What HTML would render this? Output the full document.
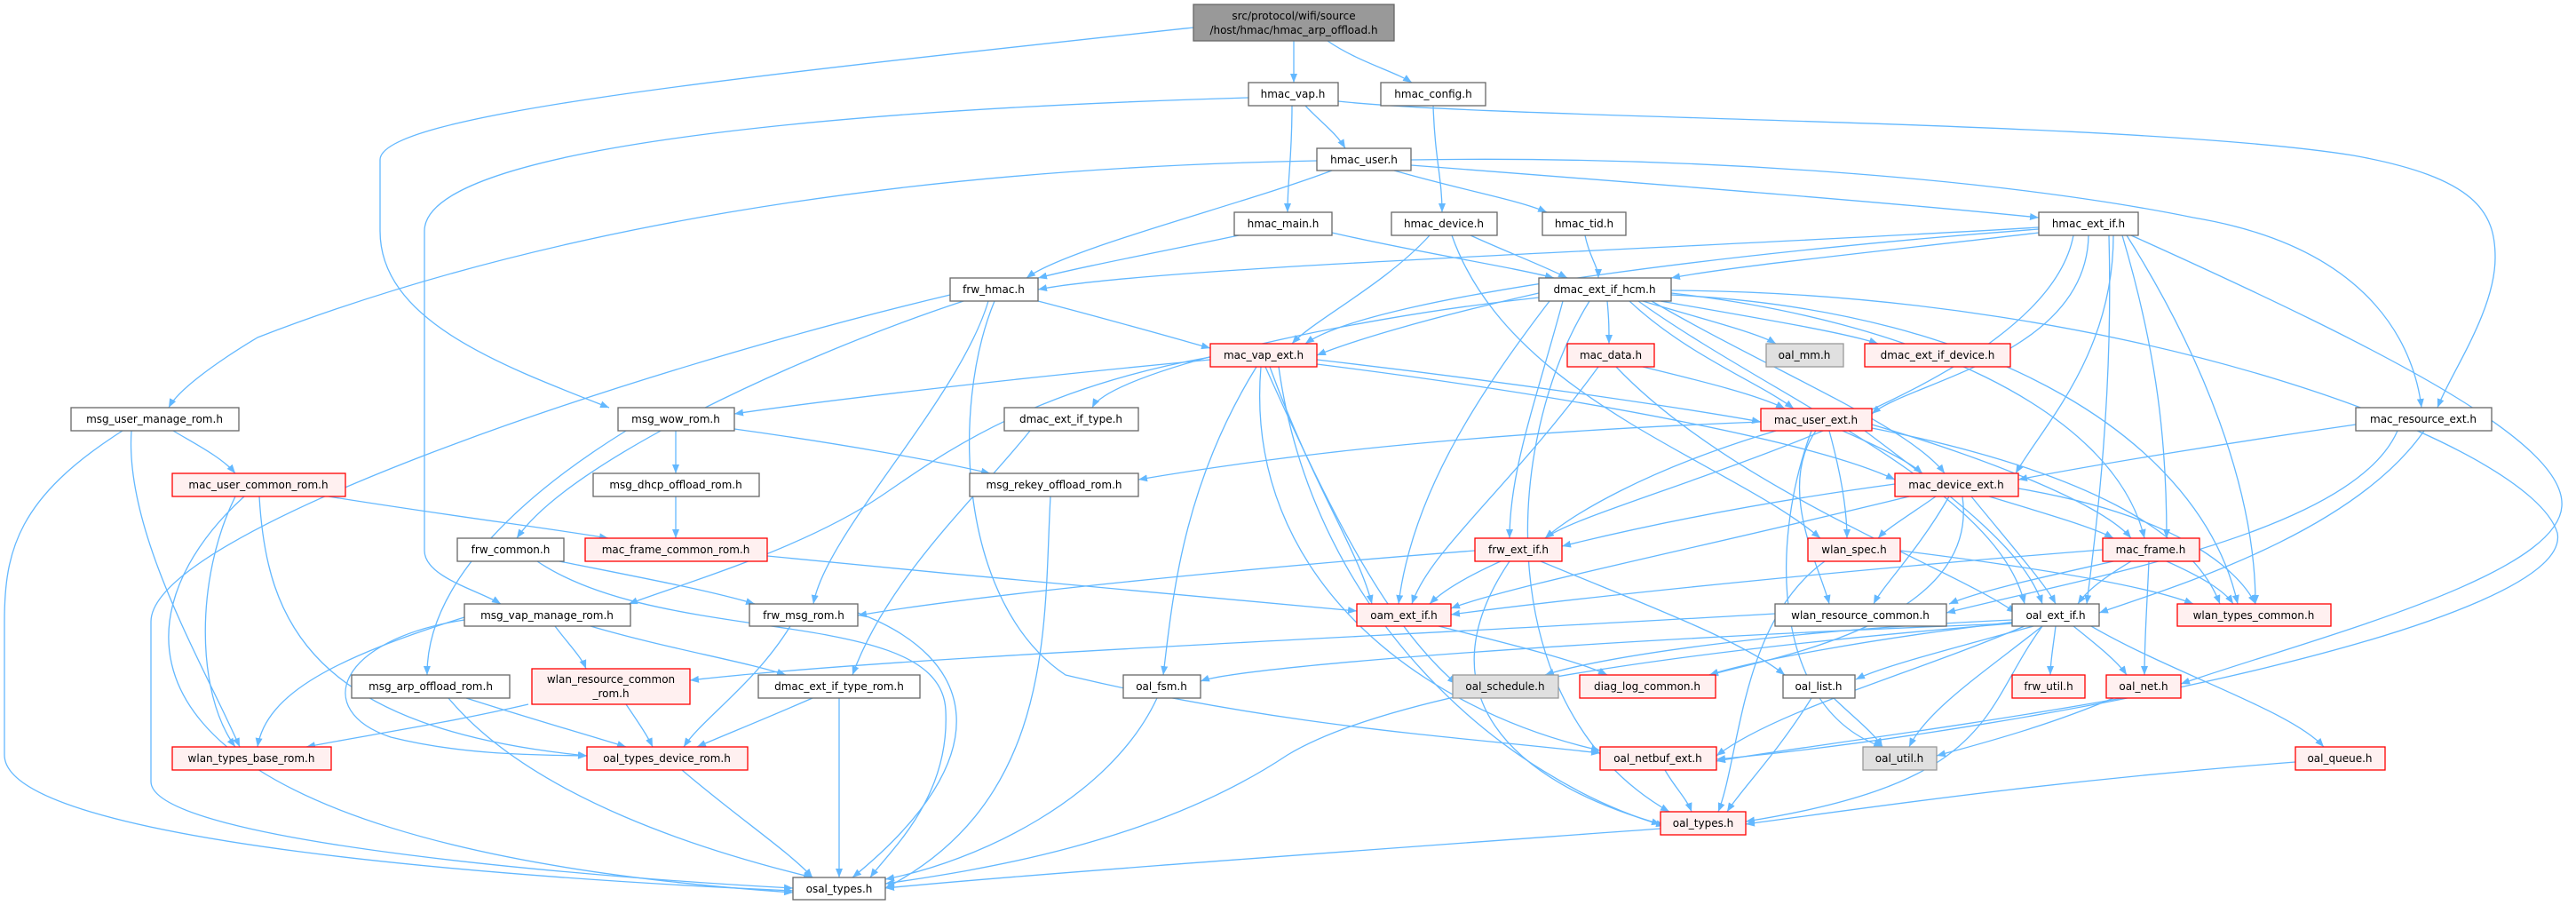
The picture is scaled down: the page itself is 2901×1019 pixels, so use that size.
<!DOCTYPE html>
<html><head><meta charset="utf-8"><style>
html,body{margin:0;padding:0;background:#fff;}
svg{display:block;}
text{font-family:"DejaVu Sans","Liberation Sans",sans-serif;font-size:12px;fill:#000;text-anchor:middle;}
.e{fill:none;stroke:#63b8ff;stroke-width:1.3;marker-end:url(#a);}
.n{fill:#fff;stroke:#666;stroke-width:1.3;}
.r{fill:#fff0f0;stroke:#f00;stroke-width:1.3;}
.g{fill:#e0e0e0;stroke:#999;stroke-width:1.3;}
</style></head><body>
<svg width="2901" height="1019" xmlns="http://www.w3.org/2000/svg">
<defs><marker id="a" markerUnits="userSpaceOnUse" markerWidth="11" markerHeight="8" refX="10" refY="4" orient="auto"><path d="M0,0 L10,4 L0,8 z" fill="#63b8ff"/></marker></defs>
<g>
<path class="e" d="M1457,46 L1457,93"/>
<path class="e" d="M1495,46 C1530,70 1570,80 1590,93"/>
<path class="e" d="M1344,31 C800,90 428,130 428,180 L428,260 C428,360 560,410 686,459"/>
<path class="e" d="M1470,119 C1490,140 1505,150 1515,167"/>
<path class="e" d="M1455,119 C1455,180 1450,200 1450,239"/>
<path class="e" d="M1507,114 C1700,135 2400,135 2650,175 C2790,200 2810,240 2810,290 C2810,350 2760,420 2745,459"/>
<path class="e" d="M1406,110 C900,125 478,170 478,260 L478,620 C478,650 540,665 564,680"/>
<path class="e" d="M1614,119 C1616,180 1624,200 1624,239"/>
<path class="e" d="M1500,192 C1400,230 1200,280 1156,313"/>
<path class="e" d="M1483,181 C1000,190 600,260 290,380 C240,410 200,440 190,459"/>
<path class="e" d="M1570,192 C1650,215 1710,225 1742,239"/>
<path class="e" d="M1589,186 C1900,210 2150,230 2296,245"/>
<path class="e" d="M1589,180 C1900,175 2250,200 2470,245 C2680,280 2720,400 2727,459"/>
<path class="e" d="M1395,265 C1300,285 1220,300 1169,313"/>
<path class="e" d="M1500,262 C1600,285 1700,300 1750,313"/>
<path class="e" d="M1656,265 C1700,285 1740,300 1765,313"/>
<path class="e" d="M1610,265 C1560,320 1480,360 1455,387"/>
<path class="e" d="M1635,265 C1700,450 1950,520 2050,606"/>
<path class="e" d="M1785,265 C1790,290 1800,300 1800,313"/>
<path class="e" d="M2296,256 C1900,280 1300,300 1169,326"/>
<path class="e" d="M2296,262 C2100,285 1950,300 1882,313"/>
<path class="e" d="M2296,258 C2000,280 1550,330 1470,387"/>
<path class="e" d="M2352,265 C2350,400 2150,430 2108,466"/>
<path class="e" d="M2380,265 C2380,400 2300,480 2270,533"/>
<path class="e" d="M2335,265 C2300,450 1800,560 1740,606"/>
<path class="e" d="M2390,265 C2430,400 2440,500 2440,606"/>
<path class="e" d="M2375,265 C2380,450 2360,600 2350,680"/>
<path class="e" d="M2395,265 C2480,400 2540,550 2540,680"/>
<path class="e" d="M2400,265 C2700,400 2890,500 2885,570 C2880,650 2600,720 2456,770"/>
<path class="e" d="M1169,339 C1250,360 1320,380 1363,392"/>
<path class="e" d="M1085,339 C900,400 640,520 582,606"/>
<path class="e" d="M1113,339 C1080,450 930,600 916,680"/>
<path class="e" d="M1120,339 C1070,460 1080,680 1200,760 C1450,820 1650,830 1802,848"/>
<path class="e" d="M1070,332 C700,420 170,600 170,700 L170,880 C170,950 700,990 893,1000"/>
<path class="e" d="M1733,330 C1600,360 1520,385 1483,400"/>
<path class="e" d="M1810,339 C1812,360 1812,370 1812,387"/>
<path class="e" d="M1850,339 C1920,360 1980,375 2000,387"/>
<path class="e" d="M1870,339 C1990,360 2080,375 2115,387"/>
<path class="e" d="M1835,339 C1900,400 1980,430 2020,460"/>
<path class="e" d="M1733,335 C1500,360 1250,420 1230,459"/>
<path class="e" d="M1760,339 C1730,450 1700,530 1700,606"/>
<path class="e" d="M1745,339 C1660,450 1590,560 1575,680"/>
<path class="e" d="M1790,339 C1690,500 1680,800 1880,914"/>
<path class="e" d="M1860,339 C2000,420 2150,480 2190,533"/>
<path class="e" d="M1882,330 C2150,360 2380,460 2415,606"/>
<path class="e" d="M1882,332 C2250,350 2480,500 2520,680"/>
<path class="e" d="M1845,339 C2000,450 2250,550 2280,680"/>
<path class="e" d="M1882,327 C2400,330 2850,500 2880,600 C2900,700 2300,820 1933,855"/>
<path class="e" d="M1363,405 C1100,430 900,455 827,466"/>
<path class="e" d="M1483,405 C1700,430 1900,460 1983,475"/>
<path class="e" d="M1363,402 C1150,440 1050,520 990,560 C900,620 760,660 708,680"/>
<path class="e" d="M1415,413 C1330,550 1320,680 1310,760"/>
<path class="e" d="M1430,413 C1480,550 1530,620 1545,680"/>
<path class="e" d="M1425,413 C1500,580 1560,700 1640,770"/>
<path class="e" d="M1420,413 C1400,650 1600,800 1802,845"/>
<path class="e" d="M1440,413 C1480,700 1700,880 1875,930"/>
<path class="e" d="M1483,410 C1800,450 2050,500 2134,540"/>
<path class="e" d="M761,485 L761,533"/>
<path class="e" d="M827,483 C950,500 1060,520 1115,533"/>
<path class="e" d="M705,485 C600,550 480,650 481,760"/>
<path class="e" d="M195,485 C220,500 250,515 265,533"/>
<path class="e" d="M148,485 C140,600 230,750 270,841"/>
<path class="e" d="M138,485 C20,560 5,620 5,700 L5,850 C5,950 600,990 893,1003"/>
<path class="e" d="M370,559 C500,580 620,595 685,606"/>
<path class="e" d="M265,559 C220,650 220,780 265,841"/>
<path class="e" d="M275,559 C120,700 100,950 893,1005"/>
<path class="e" d="M292,559 C300,700 350,820 661,851"/>
<path class="e" d="M761,559 L761,606"/>
<path class="e" d="M1183,559 C1175,700 1190,900 997,1000"/>
<path class="e" d="M864,626 C1100,650 1400,675 1528,688"/>
<path class="e" d="M630,632 C720,650 800,665 850,680"/>
<path class="e" d="M605,632 C750,730 1060,680 1065,800 C1070,900 1000,960 980,988"/>
<path class="e" d="M625,705 C640,725 655,740 660,753"/>
<path class="e" d="M665,705 C750,730 840,745 885,760"/>
<path class="e" d="M523,695 C380,740 300,780 290,841"/>
<path class="e" d="M523,698 C380,720 350,800 440,830 C520,850 600,850 661,851"/>
<path class="e" d="M890,705 C850,770 790,810 770,841"/>
<path class="e" d="M966,690 C1100,740 1130,850 960,988"/>
<path class="e" d="M525,786 C600,810 670,830 705,841"/>
<path class="e" d="M505,786 C600,900 800,960 915,988"/>
<path class="e" d="M595,793 C500,815 400,830 345,841"/>
<path class="e" d="M705,793 C720,815 730,830 735,841"/>
<path class="e" d="M915,786 C860,810 810,830 785,841"/>
<path class="e" d="M945,786 L945,988"/>
<path class="e" d="M1160,485 C1100,560 1000,650 960,760"/>
<path class="e" d="M1303,786 C1250,900 1100,970 997,990"/>
<path class="e" d="M768,867 C830,920 890,960 915,988"/>
<path class="e" d="M1870,933 C1500,960 1150,985 997,1000"/>
<path class="e" d="M1850,413 C1920,430 1980,445 2010,460"/>
<path class="e" d="M1800,413 C1700,550 1610,620 1590,680"/>
<path class="e" d="M1820,413 C1950,550 2200,640 2270,690"/>
<path class="e" d="M1983,475 C1600,490 1400,520 1282,540"/>
<path class="e" d="M2075,485 C2120,505 2150,520 2165,533"/>
<path class="e" d="M2000,485 C1850,530 1770,580 1740,606"/>
<path class="e" d="M2060,485 C2075,540 2080,580 2080,606"/>
<path class="e" d="M2045,485 C2000,550 2050,640 2060,680"/>
<path class="e" d="M2100,485 C2200,560 2280,620 2300,680"/>
<path class="e" d="M2108,478 C2250,520 2370,570 2400,606"/>
<path class="e" d="M2108,482 C2350,530 2470,600 2500,680"/>
<path class="e" d="M2040,485 C1990,620 2000,800 2120,841"/>
<path class="e" d="M2653,478 C2500,500 2350,525 2273,540"/>
<path class="e" d="M2730,485 C2650,600 2450,660 2364,690"/>
<path class="e" d="M2700,485 C2650,600 2350,650 2192,690"/>
<path class="e" d="M2134,545 C1950,570 1820,600 1759,615"/>
<path class="e" d="M2180,559 C2150,580 2125,595 2115,606"/>
<path class="e" d="M2240,559 C2310,580 2360,595 2380,606"/>
<path class="e" d="M2150,559 C1900,620 1700,660 1634,685"/>
<path class="e" d="M2195,559 C2160,620 2120,660 2110,680"/>
<path class="e" d="M2220,559 C2270,620 2305,660 2315,680"/>
<path class="e" d="M2273,550 C2450,580 2520,640 2540,680"/>
<path class="e" d="M2210,559 C2230,700 2000,740 1925,760"/>
<path class="e" d="M1690,632 C1650,650 1625,665 1610,680"/>
<path class="e" d="M1661,620 C1400,640 1100,670 966,693"/>
<path class="e" d="M1735,632 C1850,680 1960,720 2010,760"/>
<path class="e" d="M1700,632 C1600,780 1700,880 1870,928"/>
<path class="e" d="M2140,620 C2300,640 2420,660 2470,680"/>
<path class="e" d="M2055,632 C1960,700 1960,850 1935,914"/>
<path class="e" d="M2368,619 C2100,640 1800,670 1634,692"/>
<path class="e" d="M2380,632 C2300,650 2230,665 2195,680"/>
<path class="e" d="M2400,632 C2370,650 2350,665 2340,680"/>
<path class="e" d="M2420,632 C2418,680 2415,720 2415,760"/>
<path class="e" d="M2440,632 C2480,650 2505,665 2515,680"/>
<path class="e" d="M1620,705 C1700,725 1780,745 1810,760"/>
<path class="e" d="M1999,691 C1500,720 1000,740 777,766"/>
<path class="e" d="M2266,698 C2000,710 1800,740 1740,760"/>
<path class="e" d="M2270,700 C2100,720 1970,745 1925,760"/>
<path class="e" d="M2290,705 C2200,730 2120,750 2090,765"/>
<path class="e" d="M2315,705 C2312,730 2309,745 2309,760"/>
<path class="e" d="M2335,705 C2360,725 2385,745 2395,760"/>
<path class="e" d="M2300,705 C2230,760 2170,800 2150,841"/>
<path class="e" d="M2355,705 C2450,760 2580,800 2617,841"/>
<path class="e" d="M2300,705 C2230,800 2250,880 1966,925"/>
<path class="e" d="M2266,702 C1800,720 1400,750 1352,767"/>
<path class="e" d="M2266,702 C1800,740 1550,790 1450,850 C1300,950 1100,980 997,995"/>
<path class="e" d="M2280,705 C2150,760 2000,800 1933,851"/>
<path class="e" d="M2065,786 C2090,810 2110,825 2120,841"/>
<path class="e" d="M2040,786 C2000,850 1960,890 1945,914"/>
<path class="e" d="M2390,786 C2200,820 2000,845 1933,857"/>
<path class="e" d="M2380,786 C2300,820 2220,840 2181,851"/>
<path class="e" d="M1875,867 C1885,885 1900,900 1905,914"/>
<path class="e" d="M2585,858 C2300,880 2100,910 1966,928"/>
</g>
<g>
<rect x="1344" y="5" width="226" height="41" fill="#999" stroke="#666" stroke-width="1.3"/>
<text x="1457" y="22">src/protocol/wifi/source</text><text x="1457" y="38">/host/hmac/hmac_arp_offload.h</text>

<rect class="n" x="1406" y="93" width="101" height="26"/><text x="1456" y="110">hmac_vap.h</text>
<rect class="n" x="1555" y="93" width="118" height="26"/><text x="1614" y="110">hmac_config.h</text>
<rect class="n" x="1483" y="167" width="106" height="25"/><text x="1536" y="184">hmac_user.h</text>
<rect class="n" x="1390" y="239" width="110" height="26"/><text x="1445" y="256">hmac_main.h</text>
<rect class="n" x="1567" y="239" width="119" height="26"/><text x="1626" y="256">hmac_device.h</text>
<rect class="n" x="1737" y="239" width="94" height="26"/><text x="1784" y="256">hmac_tid.h</text>
<rect class="n" x="2296" y="239" width="112" height="26"/><text x="2352" y="256">hmac_ext_if.h</text>
<rect class="n" x="1070" y="313" width="99" height="26"/><text x="1119" y="330">frw_hmac.h</text>
<rect class="n" x="1733" y="313" width="149" height="26"/><text x="1807" y="330">dmac_ext_if_hcm.h</text>
<rect class="r" x="1363" y="387" width="120" height="26"/><text x="1423" y="404">mac_vap_ext.h</text>
<rect class="r" x="1765" y="387" width="98" height="26"/><text x="1814" y="404">mac_data.h</text>
<rect class="g" x="1989" y="387" width="87" height="26"/><text x="2032" y="404">oal_mm.h</text>
<rect class="r" x="2100" y="387" width="164" height="26"/><text x="2182" y="404">dmac_ext_if_device.h</text>
<rect class="n" x="80" y="459" width="189" height="26"/><text x="174" y="476">msg_user_manage_rom.h</text>
<rect class="n" x="696" y="459" width="131" height="26"/><text x="761" y="476">msg_wow_rom.h</text>
<rect class="n" x="1131" y="459" width="151" height="26"/><text x="1206" y="476">dmac_ext_if_type.h</text>
<rect class="r" x="1983" y="460" width="125" height="25"/><text x="2045" y="477">mac_user_ext.h</text>
<rect class="n" x="2653" y="459" width="153" height="26"/><text x="2729" y="476">mac_resource_ext.h</text>
<rect class="r" x="194" y="533" width="195" height="26"/><text x="291" y="550">mac_user_common_rom.h</text>
<rect class="n" x="668" y="533" width="187" height="26"/><text x="761" y="550">msg_dhcp_offload_rom.h</text>
<rect class="n" x="1092" y="533" width="190" height="26"/><text x="1187" y="550">msg_rekey_offload_rom.h</text>
<rect class="r" x="2134" y="533" width="139" height="26"/><text x="2203" y="550">mac_device_ext.h</text>
<rect class="n" x="515" y="606" width="120" height="26"/><text x="575" y="623">frw_common.h</text>
<rect class="r" x="659" y="606" width="205" height="26"/><text x="761" y="623">mac_frame_common_rom.h</text>
<rect class="r" x="1661" y="606" width="98" height="26"/><text x="1710" y="623">frw_ext_if.h</text>
<rect class="r" x="2036" y="606" width="104" height="26"/><text x="2088" y="623">wlan_spec.h</text>
<rect class="r" x="2368" y="606" width="109" height="26"/><text x="2422" y="623">mac_frame.h</text>
<rect class="n" x="523" y="680" width="187" height="25"/><text x="616" y="697">msg_vap_manage_rom.h</text>
<rect class="n" x="844" y="680" width="122" height="25"/><text x="905" y="697">frw_msg_rom.h</text>
<rect class="r" x="1528" y="680" width="106" height="25"/><text x="1581" y="697">oam_ext_if.h</text>
<rect class="n" x="1999" y="680" width="193" height="25"/><text x="2095" y="697">wlan_resource_common.h</text>
<rect class="n" x="2266" y="680" width="98" height="25"/><text x="2315" y="697">oal_ext_if.h</text>
<rect class="r" x="2452" y="680" width="173" height="25"/><text x="2538" y="697">wlan_types_common.h</text>
<rect class="n" x="396" y="760" width="178" height="26"/><text x="485" y="777">msg_arp_offload_rom.h</text>
<rect class="r" x="599" y="753" width="178" height="40"/><text x="688" y="769">wlan_resource_common</text><text x="688" y="785">_rom.h</text>
<rect class="n" x="854" y="760" width="182" height="26"/><text x="945" y="777">dmac_ext_if_type_rom.h</text>
<rect class="n" x="1265" y="760" width="87" height="26"/><text x="1308" y="777">oal_fsm.h</text>
<rect class="g" x="1636" y="760" width="119" height="26"/><text x="1695" y="777">oal_schedule.h</text>
<rect class="r" x="1779" y="760" width="153" height="26"/><text x="1855" y="777">diag_log_common.h</text>
<rect class="n" x="2008" y="760" width="81" height="26"/><text x="2048" y="777">oal_list.h</text>
<rect class="r" x="2266" y="760" width="82" height="26"/><text x="2307" y="777">frw_util.h</text>
<rect class="r" x="2372" y="760" width="84" height="26"/><text x="2414" y="777">oal_net.h</text>
<rect class="r" x="194" y="841" width="179" height="26"/><text x="283" y="858">wlan_types_base_rom.h</text>
<rect class="r" x="661" y="841" width="181" height="26"/><text x="751" y="858">oal_types_device_rom.h</text>
<rect class="r" x="1802" y="841" width="131" height="26"/><text x="1867" y="858">oal_netbuf_ext.h</text>
<rect class="g" x="2098" y="841" width="83" height="26"/><text x="2139" y="858">oal_util.h</text>
<rect class="r" x="2585" y="841" width="101" height="26"/><text x="2635" y="858">oal_queue.h</text>
<rect class="r" x="1870" y="914" width="96" height="26"/><text x="1918" y="931">oal_types.h</text>
<rect class="n" x="893" y="988" width="104" height="25"/><text x="945" y="1005">osal_types.h</text>
</g>
</svg>
</body></html>
